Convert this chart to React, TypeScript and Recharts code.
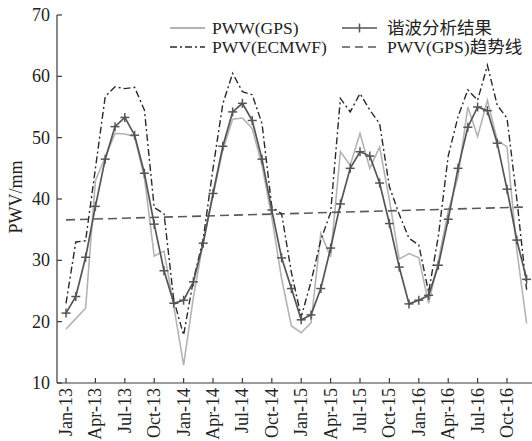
import React from 'react';
import { LineChart, Line, XAxis, YAxis } from 'recharts';

const months = [
  'Jan-13','Feb-13','Mar-13','Apr-13','May-13','Jun-13','Jul-13','Aug-13','Sep-13','Oct-13','Nov-13','Dec-13',
  'Jan-14','Feb-14','Mar-14','Apr-14','May-14','Jun-14','Jul-14','Aug-14','Sep-14','Oct-14','Nov-14','Dec-14',
  'Jan-15','Feb-15','Mar-15','Apr-15','May-15','Jun-15','Jul-15','Aug-15','Sep-15','Oct-15','Nov-15','Dec-15',
  'Jan-16','Feb-16','Mar-16','Apr-16','May-16','Jun-16','Jul-16','Aug-16','Sep-16','Oct-16','Nov-16','Dec-16',
];

const tickLabels = [
  'Jan-13','Apr-13','Jul-13','Oct-13','Jan-14','Apr-14','Jul-14','Oct-14',
  'Jan-15','Apr-15','Jul-15','Oct-15','Jan-16','Apr-16','Jul-16','Oct-16',
];

const yTicks = [10, 20, 30, 40, 50, 60, 70];

const pwvGps = [
  18.8, 20.5, 22.2, 43.0, 46.8, 50.7, 50.6, 50.2, 43.5, 30.7, 31.5, 22.5,
  12.9, 24.0, 33.0, 40.5, 48.0, 53.0, 53.2, 51.5, 45.5, 37.0, 27.0, 19.3,
  18.2, 19.8, 34.4, 30.6, 47.7, 45.5, 50.7, 45.0, 48.5, 39.8, 30.2, 31.1,
  30.4, 23.0, 30.0, 38.0, 43.6, 55.0, 50.2, 56.1, 49.6, 48.5, 31.7, 19.7,
];

const pwvEcmwf = [
  23.0, 33.0, 33.2, 45.0, 56.7, 58.3, 58.0, 58.2, 54.5, 38.6, 37.6, 23.5,
  17.8, 26.8, 33.5, 45.0, 55.5, 60.5, 57.5, 57.0, 52.3, 38.7, 37.6, 28.0,
  20.8, 26.5, 33.3, 37.8, 56.4, 54.2, 57.2, 54.5, 52.3, 42.0, 37.5, 33.6,
  32.5, 24.8, 34.0, 47.0, 53.4, 57.8, 56.1, 61.8, 55.3, 53.2, 40.0, 25.2,
];

const harmonic = [
  21.4, 24.1, 30.5, 38.8, 46.5, 51.8, 53.3, 50.4, 44.2, 35.9, 28.3, 23.0,
  23.5, 26.5, 32.8, 40.9, 48.6, 54.2, 55.6, 52.8, 46.5, 38.2, 30.4, 25.4,
  20.3, 21.1, 25.4, 32.0, 39.2, 45.0, 47.7, 47.0, 42.6, 36.0, 28.9, 22.9,
  23.5, 24.3, 29.2, 36.7, 45.0, 51.7, 55.0, 54.4, 49.1, 41.6, 33.3, 26.9,
];

const trendMonths = ['Jan-13', 'Dec-16'];
const trendValues = [36.6, 38.7];

const legendLabels = ['PWW(GPS)', 'PWV(ECMWF)', '谐波分析结果', 'PWV(GPS)趋势线'];
const yAxisTitle = 'PWV/mm';

const data = months.map((m, i) => ({
  i,
  month: m,
  gps: pwvGps[i],
  ecmwf: pwvEcmwf[i],
  harm: harmonic[i],
}));
const trendData = trendMonths.map((m, k) => ({ i: months.indexOf(m), trend: trendValues[k] }));
const xTicks = tickLabels.map((l) => months.indexOf(l));

const FONT = "'Liberation Serif', 'Times New Roman', 'Noto Sans CJK SC', serif";
const AXIS = '#3a3a3a';
const C_GPS = '#b4b4b4';
const C_ECM = '#2a2a2a';
const C_HARM = '#555555';
const C_TREND = '#5a5a5a';
const ECM_DASH = '7 3 2 3';
const TREND_DASH = '9 5';

const YTick = (props: any) => {
  const { x, y, payload } = props;
  return (
    <g>
      <line x1={x} x2={x + 5} y1={y} y2={y} stroke={AXIS} strokeWidth={1.2} />
      <text x={x - 7} y={y} textAnchor="end" dominantBaseline="central" fontSize={18} fill="#222" fontFamily={FONT}>
        {payload.value}
      </text>
    </g>
  );
};

const XTick = (props: any) => {
  const { x, y, payload } = props;
  const label = months[payload.value] ?? '';
  return (
    <g>
      <line x1={x} x2={x} y1={y} y2={y - 5} stroke={AXIS} strokeWidth={1.2} />
      <text
        transform={`translate(${x},${y + 5}) rotate(-90)`}
        textAnchor="end"
        dominantBaseline="central"
        fontSize={18}
        fill="#222"
        fontFamily={FONT}
      >
        {label}
      </text>
    </g>
  );
};

const PlusDot = (props: any) => {
  const { cx, cy, index } = props;
  if (cx == null || cy == null) return <g key={index} />;
  const s = 4.5;
  return (
    <g key={index}>
      <line x1={cx - s} x2={cx + s} y1={cy} y2={cy} stroke={C_HARM} strokeWidth={1.5} />
      <line x1={cx} x2={cx} y1={cy - s} y2={cy + s} stroke={C_HARM} strokeWidth={1.5} />
    </g>
  );
};

export default function App() {
  return (
    <div style={{ position: 'absolute', left: 0, top: 0, width: 532, height: 441, background: '#fff', fontFamily: FONT }}>
      <LineChart width={532} height={441} data={data} margin={{ top: 15, right: 0, left: 0, bottom: 0 }}>
        <XAxis
          dataKey="i"
          type="number"
          domain={[-0.92, 47.55]}
          allowDataOverflow
          ticks={xTicks}
          interval={0}
          height={58}
          tickSize={0}
          tickMargin={0}
          tickLine={false}
          tick={<XTick />}
          axisLine={{ stroke: AXIS, strokeWidth: 1.2 }}
        />
        <YAxis
          type="number"
          domain={[10, 70]}
          ticks={yTicks}
          interval={0}
          width={57}
          tickSize={0}
          tickMargin={0}
          tickLine={false}
          tick={<YTick />}
          axisLine={{ stroke: AXIS, strokeWidth: 1.2 }}
        />
        <Line dataKey="gps" stroke={C_GPS} strokeWidth={1.6} dot={false} isAnimationActive={false} />
        <Line
          data={trendData}
          dataKey="trend"
          stroke={C_TREND}
          strokeWidth={1.6}
          strokeDasharray={TREND_DASH}
          dot={false}
          isAnimationActive={false}
        />
        <Line
          dataKey="ecmwf"
          stroke={C_ECM}
          strokeWidth={1.4}
          strokeDasharray={ECM_DASH}
          dot={false}
          isAnimationActive={false}
        />
        <Line dataKey="harm" stroke={C_HARM} strokeWidth={1.7} dot={<PlusDot />} isAnimationActive={false} />
      </LineChart>
      <svg width={532} height={441} style={{ position: 'absolute', left: 0, top: 0, pointerEvents: 'none' }}>
        <text
          transform="translate(16,197) rotate(-90)"
          textAnchor="middle"
          dominantBaseline="central"
          fontSize={18}
          fill="#222"
          fontFamily={FONT}
        >
          {yAxisTitle}
        </text>
        <g fontFamily={FONT} fontSize={17.5} fill="#222">
          <line x1={170} x2={205} y1={28} y2={28} stroke={C_GPS} strokeWidth={1.8} />
          <text x={212} y={28} dominantBaseline="central">{legendLabels[0]}</text>
          <line x1={170} x2={205} y1={47} y2={47} stroke={C_ECM} strokeWidth={1.5} strokeDasharray={ECM_DASH} />
          <text x={212} y={47} dominantBaseline="central">{legendLabels[1]}</text>
          <line x1={342} x2={377} y1={28} y2={28} stroke={C_HARM} strokeWidth={1.7} />
          <line x1={359.5} x2={359.5} y1={23.5} y2={32.5} stroke={C_HARM} strokeWidth={1.5} />
          <text x={387} y={28} dominantBaseline="central">{legendLabels[2]}</text>
          <line x1={342} x2={377} y1={47} y2={47} stroke={C_TREND} strokeWidth={1.6} strokeDasharray="8 5" />
          <text x={387} y={47} dominantBaseline="central">{legendLabels[3]}</text>
        </g>
      </svg>
    </div>
  );
}
